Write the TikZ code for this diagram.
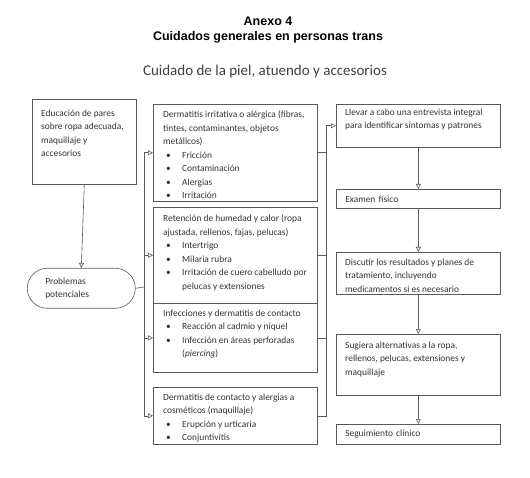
\documentclass[tikz,border=0pt]{standalone}
\usepackage{fontspec}
\setmainfont{Carlito}
\newfontfamily\arialf{Liberation Sans}
\usetikzlibrary{arrows.meta,positioning}

\tikzset{
	caja/.style = {draw=black!65, line width=0.6pt, anchor=north west, inner sep=0pt},
	texto/.style = {anchor=north west, align=left, inner sep=0pt, text=black!80,
		font=\fontsize{9.4}{13.5}\selectfont},
	flecha/.style = {-{Triangle[open, length=5pt, width=5pt]}, draw=black!65, line width=0.6pt},
	linea/.style = {draw=black!65, line width=0.6pt}
}
% vinetas
\newcommand{\pto}{\hspace*{3pt}\makebox[16pt][l]{\textbullet}}
\newcommand{\sgd}{\hspace*{19pt}}

\begin{document}
\begin{tikzpicture}[x=1pt, y=-1pt]
	\useasboundingbox (0,0) rectangle (530,478);
	
	%	titulos
	\node[font=\arialf\bfseries\fontsize{12.5}{14}\selectfont] (anexo) at (268,21) {Anexo 4};
	\node[font=\arialf\bfseries\fontsize{12.5}{14}\selectfont] (titulo) at (268,37) {Cuidados generales en personas trans};
	\node[font=\fontsize{15}{18}\selectfont, text=black!75] (subtitulo) at (265,72) {Cuidado de la piel, atuendo y accesorios};
	
	%	columna izquierda
	\node[caja, minimum width=104pt, minimum height=85pt] (edu) at (32,99) {};
	\node[texto, below right=10.5pt and 9pt of edu.north west] (edut) {Educación de pares\\sobre ropa adecuada,\\maquillaje y\\accesorios};
	\node[caja, anchor=north west, rounded corners=20pt, minimum width=108pt, minimum height=40pt,
		text width=72pt, inner xsep=18pt, align=left, text=black!80,
		font=\fontsize{9.4}{13.5}\selectfont] (prob) at (27,268) {Problemas\\potenciales};
	
	%	columna central
	\node[caja, minimum width=164pt, minimum height=97pt] (m1) at (153,104) {};
	\node[caja, minimum width=164pt, minimum height=96pt] (m2) at (153,207) {};
	\node[caja, minimum width=164pt, minimum height=69pt] (m3) at (153,303) {};
	\node[caja, minimum width=164pt, minimum height=57pt] (m4) at (153,387) {};
	
	\node[texto, below right=6.5pt and 10pt of m1.north west] (m1t) {Dermatitis irritativa o alérgica (fibras,\\tintes, contaminantes, objetos\\metálicos)\\\pto Fricción\\\pto Contaminación\\\pto Alergias\\\pto Irritación};
	\node[texto, below right=7.5pt and 10pt of m2.north west] (m2t) {Retención de humedad y calor (ropa\\ajustada, rellenos, fajas, pelucas)\\\pto Intertrigo\\\pto Milaria rubra\\\pto Irritación de cuero cabelludo por\\\sgd pelucas y extensiones};
	\node[texto, below right=6.5pt and 10pt of m3.north west] (m3t) {Infecciones y dermatitis de contacto\\\pto Reacción al cadmio y níquel\\\pto Infección en áreas perforadas\\\sgd (\textit{piercing})};
	\node[texto, below right=6.5pt and 10pt of m4.north west] (m4t) {Dermatitis de contacto y alergias a\\cosméticos (maquillaje)\\\pto Erupción y urticaria\\\pto Conjuntivitis};
	
	%	columna derecha
	\node[caja, minimum width=164pt, minimum height=43pt] (r1) at (336,104) {};
	\node[texto, below right=4.5pt and 9pt of r1.north west] (r1t) {Llevar a cabo una entrevista integral\\para identificar síntomas y patrones};
	\node[caja, minimum width=164pt, minimum height=19pt, text width=146pt, inner xsep=9pt,
		align=left, text=black!80, font=\fontsize{9.4}{13.5}\selectfont] (r2) at (336,189) {Examen físico};
	\node[caja, minimum width=164pt, minimum height=42pt] (r3) at (336,252) {};
	\node[texto, below right=6.5pt and 9pt of r3.north west] (r3t) {Discutir los resultados y planes de\\tratamiento, incluyendo\\medicamentos si es necesario};
	\node[caja, minimum width=164pt, minimum height=61pt] (r4) at (336,334) {};
	\node[texto, below right=7.5pt and 9pt of r4.north west] (r4t) {Sugiera alternativas a la ropa,\\rellenos, pelucas, extensiones y\\maquillaje};
	\node[caja, minimum width=164pt, minimum height=20pt, text width=146pt, inner xsep=9pt,
		align=left, text=black!80, font=\fontsize{9.4}{13.5}\selectfont] (r5) at (336,424) {Seguimiento clínico};
	
	%	conectores
	\draw[flecha] (edu.south) -- (prob.north);
	\coordinate (izq) at (144,287);
	\draw[linea] (prob.east) -- (izq);
	\foreach \m in {m1,m2,m3,m4}
		\draw[flecha] (izq) |- (\m.west);
	\foreach \m in {m1,m2,m3}
		\draw[linea] (\m.east) -- ++(9,0);
	\draw[flecha] (m4.east) -- ++(9,0) |- (r1.west);
	\draw[flecha] (r1.south) -- (r2.north);
	\draw[flecha] (r2.south) -- (r3.north);
	\draw[flecha] (r3.south) -- (r4.north);
	\draw[flecha] (r4.south) -- (r5.north);
\end{tikzpicture}
\end{document}
